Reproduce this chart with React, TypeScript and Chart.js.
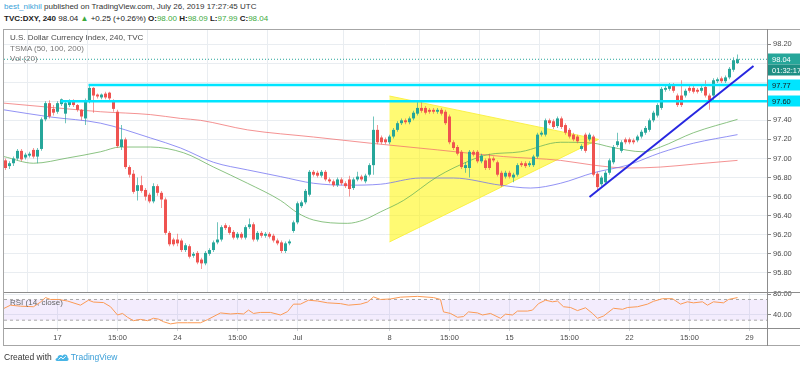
import React, { useEffect, useRef } from "react";
import { Chart, registerables } from "chart.js";
Chart.register(...registerables);

const FONT = "'Liberation Sans', Arial, sans-serif";

// ---- axis data ----
const TICK_IDX = [13, 28, 43, 58, 73, 96, 111, 126, 141, 156, 171, 186];
const TICK_LABELS = ["17", "15:00", "24", "15:00", "Jul", "8", "15:00", "15", "15:00", "22", "15:00", "29"];
const PRICE_TICKS = [95.8, 96.0, 96.2, 96.4, 96.6, 96.8, 97.0, 97.2, 97.4, 97.6, 97.8, 98.0, 98.2];
const HIDDEN_PRICE_LABELS = [98.0, 97.8, 97.6];
const RSI_TICKS = [40, 80];
const RSI_BANDS = [70, 30];

// ---- candles (240 min bars) ----
const OPEN = [
  96.98, 96.92, 96.95, 97.00, 97.08, 97.01, 97.03, 97.09, 97.02, 97.10,
  97.41, 97.58, 97.52, 97.49, 97.57, 97.47, 97.56, 97.60, 97.56, 97.51,
  97.42, 97.61, 97.74, 97.67, 97.64, 97.68, 97.69, 97.61, 97.49, 97.12,
  97.20, 96.91, 96.84, 96.66, 96.72, 96.67, 96.62, 96.55, 96.71, 96.64,
  96.57, 96.22, 96.15, 96.15, 96.14, 96.04, 96.08, 95.98, 96.01, 95.94,
  95.90, 96.00, 96.04, 96.12, 96.15, 96.30, 96.28, 96.23, 96.17, 96.21,
  96.17, 96.28, 96.31, 96.15, 96.22, 96.19, 96.21, 96.19, 96.14, 96.12,
  96.03, 96.11, 96.24, 96.33, 96.50, 96.54, 96.62, 96.86, 96.85, 96.82,
  96.86, 96.78, 96.76, 96.72, 96.78, 96.74, 96.78, 96.69, 96.78, 96.81,
  96.76, 96.83, 96.93, 97.30, 97.22, 97.20, 97.17, 97.23, 97.30, 97.37,
  97.40, 97.38, 97.42, 97.47, 97.53, 97.53, 97.51, 97.51, 97.49, 97.51,
  97.49, 97.44, 97.17, 97.12, 97.07, 96.90, 96.90, 97.07, 97.07, 96.97,
  96.98, 97.00, 97.00, 96.96, 96.85, 96.81, 96.85, 96.80, 96.83, 96.95,
  96.95, 96.93, 96.93, 97.02, 97.25, 97.25, 97.40, 97.39, 97.34, 97.42,
  97.35, 97.30, 97.25, 97.23, 97.10, 97.25, 97.20, 97.23, 96.84, 96.73,
  96.75, 96.85, 96.96, 97.14, 97.08, 97.20, 97.20, 97.19, 97.19, 97.23,
  97.27, 97.30, 97.40, 97.45, 97.53, 97.72, 97.73, 97.77, 97.66, 97.66,
  97.66, 97.74, 97.74, 97.72, 97.71, 97.75, 97.66, 97.66, 97.81, 97.84,
  97.81, 97.85, 97.93, 98.00,
];
const HIGH = [
  97.00, 96.97, 97.02, 97.10, 97.10, 97.06, 97.07, 97.11, 97.11, 97.43,
  97.60, 97.61, 97.56, 97.60, 97.63, 97.60, 97.62, 97.62, 97.57, 97.52,
  97.63, 97.76, 97.75, 97.68, 97.68, 97.70, 97.70, 97.62, 97.51, 97.35,
  97.22, 96.93, 96.88, 96.80, 96.82, 96.69, 96.64, 96.74, 96.73, 96.66,
  96.59, 96.24, 96.17, 96.21, 96.16, 96.11, 96.10, 96.02, 96.03, 95.96,
  96.03, 96.06, 96.14, 96.33, 96.30, 96.32, 96.30, 96.25, 96.23, 96.23,
  96.30, 96.37, 96.33, 96.24, 96.24, 96.23, 96.23, 96.21, 96.16, 96.14,
  96.13, 96.15, 96.35, 96.55, 96.56, 96.68, 96.88, 96.88, 96.87, 96.88,
  96.88, 96.80, 96.78, 96.80, 96.80, 96.76, 96.82, 96.80, 96.86, 96.83,
  96.84, 96.95, 97.44, 97.35, 97.24, 97.22, 97.25, 97.32, 97.39, 97.42,
  97.42, 97.44, 97.50, 97.59, 97.59, 97.55, 97.53, 97.53, 97.53, 97.53,
  97.51, 97.46, 97.19, 97.14, 97.09, 96.96, 97.09, 97.09, 97.09, 97.05,
  97.00, 97.05, 97.02, 96.98, 96.87, 96.87, 96.87, 96.85, 96.95, 96.97,
  96.97, 96.97, 97.04, 97.27, 97.29, 97.42, 97.42, 97.41, 97.44, 97.44,
  97.37, 97.32, 97.27, 97.25, 97.15, 97.27, 97.27, 97.25, 96.86, 96.82,
  96.87, 97.00, 97.14, 97.27, 97.19, 97.22, 97.22, 97.21, 97.25, 97.30,
  97.34, 97.42, 97.50, 97.58, 97.75, 97.76, 97.79, 97.79, 97.68, 97.82,
  97.73, 97.76, 97.76, 97.74, 97.76, 97.82, 97.68, 97.84, 97.85, 97.86,
  97.87, 97.96, 98.06, 98.09,
];
const LOW = [
  96.88, 96.89, 96.92, 96.98, 96.97, 96.99, 97.01, 97.00, 96.95, 97.08,
  97.39, 97.42, 97.45, 97.47, 97.55, 97.37, 97.54, 97.54, 97.49, 97.40,
  97.35, 97.58, 97.48, 97.63, 97.62, 97.62, 97.60, 97.49, 97.11, 97.09,
  96.89, 96.80, 96.63, 96.56, 96.64, 96.56, 96.53, 96.53, 96.61, 96.48,
  96.20, 96.08, 96.08, 96.08, 96.02, 96.02, 95.95, 95.96, 95.89, 95.84,
  95.88, 95.98, 96.02, 96.10, 96.13, 96.25, 96.20, 96.15, 96.15, 96.15,
  96.15, 96.26, 96.13, 96.13, 96.17, 96.17, 96.16, 96.12, 96.09, 96.01,
  96.01, 96.09, 96.22, 96.31, 96.48, 96.52, 96.60, 96.81, 96.80, 96.80,
  96.76, 96.74, 96.70, 96.70, 96.72, 96.69, 96.60, 96.67, 96.76, 96.76,
  96.74, 96.81, 96.83, 97.15, 97.15, 97.15, 97.15, 97.21, 97.28, 97.35,
  97.36, 97.36, 97.40, 97.45, 97.48, 97.46, 97.47, 97.47, 97.47, 97.45,
  97.35, 97.15, 97.09, 97.03, 96.89, 96.85, 96.80, 97.02, 96.95, 96.95,
  96.88, 96.88, 96.96, 96.81, 96.70, 96.79, 96.79, 96.75, 96.81, 96.91,
  96.90, 96.91, 96.91, 97.00, 97.23, 97.23, 97.35, 97.31, 97.32, 97.31,
  97.25, 97.21, 97.18, 97.16, 97.08, 97.06, 97.18, 96.81, 96.67, 96.71,
  96.73, 96.83, 96.94, 97.12, 97.06, 97.15, 97.15, 97.15, 97.17, 97.21,
  97.25, 97.28, 97.38, 97.43, 97.51, 97.70, 97.71, 97.69, 97.54, 97.54,
  97.64, 97.69, 97.68, 97.68, 97.69, 97.64, 97.51, 97.60, 97.79, 97.79,
  97.79, 97.83, 97.91, 97.99,
];
const CLOSE = [
  96.90, 96.95, 97.00, 97.08, 96.99, 97.04, 97.05, 97.02, 97.09, 97.41,
  97.58, 97.44, 97.48, 97.58, 97.62, 97.58, 97.60, 97.56, 97.51, 97.44,
  97.61, 97.74, 97.66, 97.65, 97.67, 97.64, 97.63, 97.52, 97.13, 97.20,
  96.91, 96.83, 96.65, 96.72, 96.66, 96.60, 96.55, 96.71, 96.64, 96.57,
  96.22, 96.10, 96.10, 96.11, 96.04, 96.09, 95.97, 96.00, 95.91, 95.90,
  96.01, 96.04, 96.12, 96.15, 96.28, 96.27, 96.22, 96.17, 96.21, 96.17,
  96.28, 96.31, 96.15, 96.22, 96.19, 96.21, 96.18, 96.14, 96.11, 96.03,
  96.11, 96.13, 96.33, 96.53, 96.54, 96.66, 96.86, 96.83, 96.82, 96.86,
  96.78, 96.76, 96.72, 96.78, 96.74, 96.71, 96.68, 96.78, 96.81, 96.78,
  96.82, 96.93, 97.30, 97.17, 97.17, 97.17, 97.23, 97.30, 97.37, 97.40,
  97.38, 97.42, 97.48, 97.53, 97.50, 97.48, 97.49, 97.49, 97.51, 97.47,
  97.37, 97.17, 97.11, 97.05, 96.91, 96.93, 97.07, 97.04, 96.97, 97.03,
  96.90, 96.90, 96.98, 96.83, 96.72, 96.85, 96.81, 96.83, 96.93, 96.93,
  96.92, 96.95, 97.02, 97.25, 97.27, 97.40, 97.37, 97.33, 97.42, 97.33,
  97.27, 97.23, 97.20, 97.18, 97.13, 97.08, 97.25, 96.83, 96.70, 96.80,
  96.85, 96.98, 97.12, 97.18, 97.17, 97.17, 97.17, 97.17, 97.23, 97.28,
  97.32, 97.40, 97.48, 97.56, 97.73, 97.74, 97.76, 97.71, 97.56, 97.56,
  97.71, 97.71, 97.70, 97.70, 97.74, 97.66, 97.60, 97.82, 97.83, 97.81,
  97.85, 97.94, 98.03, 98.04,
];

// ---- TSMA (50, 100, 200) read at sample bars ----
const MA50_IDX = [-0.4, 7, 15.5, 23.75, 28.75, 36.25, 44.5, 52, 60.5, 68.75, 73, 77, 85.5, 89.5, 93.75, 99.5, 108, 116.25, 120.5, 128.75, 138.75, 147, 151.25, 159.5, 163.75, 172, 183];
const MA50_VAL = [97.02, 96.95, 97.005, 97.07, 97.12, 97.12, 97.06, 96.91, 96.74, 96.56, 96.43, 96.355, 96.32, 96.355, 96.44, 96.56, 96.81, 96.98, 97.04, 97.07, 97.17, 97.16, 97.12, 97.07, 97.12, 97.27, 97.41];
const MA100_IDX = [-0.4, 11.25, 23.75, 36.25, 43.75, 52, 60.5, 68.75, 77, 85.5, 93.75, 103.75, 112, 123.75, 131.25, 138.75, 147, 155.5, 163.75, 172, 183];
const MA100_VAL = [97.51, 97.435, 97.37, 97.215, 97.11, 96.96, 96.88, 96.81, 96.74, 96.72, 96.73, 96.795, 96.795, 96.72, 96.69, 96.74, 96.85, 96.93, 97.06, 97.16, 97.25];
const MA200_IDX = [-0.4, 15.5, 23.75, 36.25, 43.75, 48.75, 60.5, 77, 91.25, 108, 124.5, 138.75, 147, 155.5, 163.75, 172, 183];
const MA200_VAL = [97.58, 97.52, 97.49, 97.46, 97.42, 97.40, 97.30, 97.225, 97.16, 97.09, 97.02, 96.98, 96.93, 96.90, 96.91, 96.94, 96.98];

// ---- RSI (14, close) read at sample bars ----
const RSI_IDX = [-0.4, 1.25, 3.75, 7, 8.75, 10, 11.25, 13.25, 15.5, 18.75, 20.75, 22, 24.5, 26.25, 28, 29.25, 30.5, 32, 33.75, 35.5, 37, 38.25, 39.5, 41.25, 43, 45.5, 48.75, 50.5, 53.75, 56.25, 58, 59.5, 60.75, 62, 63.75, 66.25, 68.75, 70.5, 72, 73.75, 75.75, 78, 80.5, 83.75, 85.75, 88.75, 90.5, 92, 93.75, 96.25, 98.75, 103, 107, 108.75, 109.5, 111.25, 113, 114.5, 115.75, 118, 119.25, 121.25, 123.75, 125, 126.75, 128, 130.5, 131.75, 133.25, 135, 136.75, 138, 139.5, 141.25, 143, 145, 146.75, 148, 149.5, 152, 154.25, 155.5, 158, 160.5, 162, 164.25, 166.75, 168.75, 170.5, 172, 174.25, 175.5, 177, 179.5, 180.75, 183];
const RSI_VAL = [52.7, 59, 57, 56, 65, 73.7, 70, 70, 67, 59, 68.6, 65, 64, 56, 40, 43, 35.6, 29, 31.5, 29, 33.7, 32, 27, 22.8, 25, 25, 25, 31, 44, 42, 43, 42, 49.5, 43, 45, 45, 40, 46.5, 61, 61, 68.6, 67, 63.5, 62, 59, 61, 65, 75, 70, 71, 74.5, 76, 73.7, 70, 46, 43, 35.6, 37, 46, 44, 40, 43, 33.6, 41.6, 40, 47.6, 47.6, 49.5, 62, 68.6, 65.5, 67, 56, 54.5, 48.5, 54, 43, 33.6, 38, 53, 51, 54.5, 56, 61, 66.5, 71.5, 71.5, 61, 65.5, 63.5, 65.5, 59, 65.5, 63.5, 70, 73.7];

// ---- drawings ----
const LEVEL_VAL = [97.77, 97.60];
const LEVEL_START = [20.75, 13.75];
const TRI_IDX = [96, 148.25, 96];
const TRI_VAL = [97.655, 97.2, 96.125];
const TREND_IDX = [146, 187];
const TREND_VAL = [96.596, 97.969];
const LAST_PRICE = 98.04;
const COUNTDOWN = "01:32:17";

const X_MIN = -0.375;
const X_MAX = 190.375;
const Y_MIN = 95.6;
const Y_MAX = 98.347;
const RSI_MIN = 14.88;
const RSI_MAX = 84.44;

const UP = "#26a69a";
const DOWN = "#ef5350";
const GRID = "#e9edf1";

const pts = (xs: number[], ys: number[]) => xs.map((x, i) => ({ x, y: ys[i] }));

const tagPlugin = {
  id: "tags",
  afterDraw(chart: any) {
    const { ctx, chartArea } = chart;
    const y = chart.scales.y;
    const x0 = chartArea.right + 1;
    const box = (py: number, text: string, bg: string, fg: string) => {
      ctx.save();
      ctx.fillStyle = bg;
      ctx.fillRect(x0, py - 5.5, 40, 11);
      ctx.fillStyle = fg;
      ctx.font = `7.5px ${FONT}`;
      ctx.textBaseline = "middle";
      ctx.textAlign = "left";
      ctx.fillText(text, x0 + 4, py + 0.5);
      ctx.restore();
    };
    const lp = Math.round(y.getPixelForValue(LAST_PRICE));
    box(lp, LAST_PRICE.toFixed(2), "#26a69a", "#ffffff");
    box(lp + 11, COUNTDOWN, "#1f8f84", "#ffffff");
    LEVEL_VAL.forEach((v) => {
      box(Math.round(y.getPixelForValue(v)), v.toFixed(2), "#00e5ff", "#1a1a1a");
    });
  },
};

export default function App() {
  const mainRef = useRef<HTMLCanvasElement>(null);
  const rsiRef = useRef<HTMLCanvasElement>(null);

  useEffect(() => {
    Chart.defaults.font.family = FONT;
    const bodyColors = CLOSE.map((c, i) => (c >= OPEN[i] ? UP : DOWN));
    const wickColors = CLOSE.map((c, i) => (c >= OPEN[i] ? "rgba(38,166,154,0.65)" : "rgba(239,83,80,0.6)"));
    const idx = CLOSE.map((_, i) => i);

    const main = new Chart(mainRef.current as HTMLCanvasElement, {
      type: "bar",
      data: {
        datasets: [
          {
            type: "line",
            data: pts(TRI_IDX, TRI_VAL),
            fill: "shape",
            backgroundColor: "rgba(255,246,0,0.55)",
            borderColor: "rgba(250,240,60,0.9)",
            borderWidth: 1,
            pointRadius: 0,
            tension: 0,
            order: 20,
          } as any,
          {
            type: "line",
            data: pts(MA200_IDX, MA200_VAL),
            borderColor: "rgba(240,110,110,0.75)",
            borderWidth: 1,
            pointRadius: 0,
            cubicInterpolationMode: "monotone",
            order: 12,
          } as any,
          {
            type: "line",
            data: pts(MA100_IDX, MA100_VAL),
            borderColor: "rgba(110,110,240,0.75)",
            borderWidth: 1,
            pointRadius: 0,
            cubicInterpolationMode: "monotone",
            order: 11,
          } as any,
          {
            type: "line",
            data: pts(MA50_IDX, MA50_VAL),
            borderColor: "rgba(100,175,90,0.75)",
            borderWidth: 1,
            pointRadius: 0,
            cubicInterpolationMode: "monotone",
            order: 10,
          } as any,
          {
            type: "bar",
            data: idx.map((i) => ({ x: i, y: [LOW[i], HIGH[i]] })),
            backgroundColor: wickColors,
            barThickness: 1,
            grouped: false,
            inflateAmount: 0,
            order: 6,
          } as any,
          {
            type: "bar",
            data: idx.map((i) => ({ x: i, y: [OPEN[i], CLOSE[i]] })),
            backgroundColor: bodyColors,
            barThickness: 3,
            grouped: false,
            minBarLength: 1,
            inflateAmount: 0,
            order: 5,
          } as any,
          ...LEVEL_VAL.map(
            (v, k) =>
              ({
                type: "line",
                data: [
                  { x: LEVEL_START[k], y: v },
                  { x: X_MAX, y: v },
                ],
                borderColor: "#00e5ff",
                borderWidth: 2.5,
                pointRadius: 0,
                order: 3,
              } as any)
          ),
          {
            type: "line",
            data: pts(TREND_IDX, TREND_VAL),
            borderColor: "#2727e0",
            borderWidth: 2,
            pointRadius: 0,
            order: 2,
          } as any,
          {
            type: "line",
            data: [
              { x: X_MIN, y: LAST_PRICE },
              { x: X_MAX, y: LAST_PRICE },
            ],
            borderColor: "#26a69a",
            borderWidth: 1,
            borderDash: [1, 2],
            pointRadius: 0,
            order: 1,
          } as any,
        ],
      },
      options: {
        responsive: false,
        animation: false,
        devicePixelRatio: 1,
        events: [],
        layout: { padding: { left: 4, right: 0, top: 0, bottom: 0 } },
        plugins: { legend: { display: false }, tooltip: { enabled: false } },
        scales: {
          x: {
            type: "linear",
            min: X_MIN,
            max: X_MAX,
            offset: false,
            afterBuildTicks: (s: any) => {
              s.ticks = TICK_IDX.map((v) => ({ value: v }));
            },
            ticks: { display: false },
            grid: { color: GRID, drawTicks: false },
            border: { display: false },
            afterFit: (s: any) => {
              s.height = 0;
              s.paddingLeft = 0;
              s.paddingRight = 0;
            },
          },
          y: {
            type: "linear",
            position: "right",
            min: Y_MIN,
            max: Y_MAX,
            afterBuildTicks: (s: any) => {
              s.ticks = PRICE_TICKS.map((v) => ({ value: v }));
            },
            ticks: {
              callback: (v: any) => (HIDDEN_PRICE_LABELS.includes(v) ? "" : Number(v).toFixed(2)),
              font: { size: 7.5 },
              color: "#4a4a4a",
              padding: 2,
            },
            grid: { color: GRID, tickColor: "#8a8a8a", tickLength: 4 },
            border: { display: false },
            afterFit: (s: any) => {
              s.width = 33;
              s.paddingTop = 0;
              s.paddingBottom = 0;
            },
          },
        },
      } as any,
      plugins: [tagPlugin],
    });

    const rsi = new Chart(rsiRef.current as HTMLCanvasElement, {
      type: "line",
      data: {
        datasets: [
          {
            data: [
              { x: X_MIN, y: RSI_BANDS[0] },
              { x: X_MAX, y: RSI_BANDS[0] },
            ],
            borderColor: "#a8a8a8",
            borderWidth: 1,
            borderDash: [3, 3],
            fill: "+1",
            backgroundColor: "rgba(150,80,240,0.11)",
            pointRadius: 0,
            order: 3,
          },
          {
            data: [
              { x: X_MIN, y: RSI_BANDS[1] },
              { x: X_MAX, y: RSI_BANDS[1] },
            ],
            borderColor: "#a8a8a8",
            borderWidth: 1,
            borderDash: [3, 3],
            fill: false,
            pointRadius: 0,
            order: 2,
          },
          {
            data: pts(RSI_IDX, RSI_VAL),
            borderColor: "#fb9a55",
            borderWidth: 1,
            pointRadius: 0,
            fill: false,
            tension: 0,
            order: 1,
          },
        ],
      },
      options: {
        responsive: false,
        animation: false,
        devicePixelRatio: 1,
        events: [],
        layout: { padding: { left: 4, right: 0, top: 12, bottom: 0 } },
        plugins: { legend: { display: false }, tooltip: { enabled: false } },
        scales: {
          x: {
            type: "linear",
            min: X_MIN,
            max: X_MAX,
            offset: false,
            afterBuildTicks: (s: any) => {
              s.ticks = TICK_IDX.map((v) => ({ value: v }));
            },
            ticks: {
              callback: (v: any) => TICK_LABELS[TICK_IDX.indexOf(v)] ?? "",
              font: { size: 7.5 },
              color: "#4a4a4a",
              padding: 2,
              maxRotation: 0,
              autoSkip: false,
            },
            grid: { color: GRID, tickColor: "#d0d4d8", tickLength: 3 },
            border: { display: false },
            afterFit: (s: any) => {
              s.height = 17;
              s.paddingLeft = 0;
              s.paddingRight = 0;
            },
          },
          y: {
            type: "linear",
            position: "right",
            min: RSI_MIN,
            max: RSI_MAX,
            afterBuildTicks: (s: any) => {
              s.ticks = RSI_TICKS.map((v) => ({ value: v }));
            },
            ticks: {
              callback: (v: any) => Number(v).toFixed(2),
              font: { size: 7.5 },
              color: "#4a4a4a",
              padding: 2,
            },
            grid: { color: GRID, tickColor: "#8a8a8a", tickLength: 4 },
            border: { display: false },
            afterFit: (s: any) => {
              s.width = 33;
              s.paddingTop = 0;
              s.paddingBottom = 0;
            },
          },
        },
      } as any,
    });

    return () => {
      main.destroy();
      rsi.destroy();
    };
  }, []);

  const abs = (l: number, t: number, w: number, h: number, bg: string): React.CSSProperties => ({
    position: "absolute",
    left: l,
    top: t,
    width: w,
    height: h,
    background: bg,
  });
  const txt: React.CSSProperties = { position: "absolute", whiteSpace: "nowrap", fontSize: 8, lineHeight: "10px" };
  const green = "#3daa3d";

  return (
    <div
      style={{
        position: "absolute",
        left: 0,
        top: 0,
        width: 800,
        height: 368,
        overflow: "hidden",
        background: "#ffffff",
        fontFamily: FONT,
        color: "#333",
      }}
    >
      <div style={{ ...txt, left: 4, top: 2 }}>
        <span style={{ color: "#3a9fd8" }}>best_nikhil</span> published on TradingView.com, July 26, 2019 17:27:45 UTC
      </div>
      <div style={{ ...txt, left: 4, top: 14, color: "#222" }}>
        <b>TVC:DXY, 240</b> 98.04 <span style={{ color: green }}>▲</span> +0.25 (+0.26%) <b>O:</b>
        <span style={{ color: green }}>98.00</span> <b>H:</b>
        <span style={{ color: green }}>98.09</span> <b>L:</b>
        <span style={{ color: green }}>97.99</span> <b>C:</b>
        <span style={{ color: green }}>98.04</span>
      </div>

      <canvas
        ref={mainRef}
        width={800}
        height={262}
        style={{ position: "absolute", left: 0, top: 30, width: 800, height: 262 }}
      />
      <canvas
        ref={rsiRef}
        width={800}
        height={65}
        style={{ position: "absolute", left: 0, top: 280, width: 800, height: 65 }}
      />

      {/* frame */}
      <div style={abs(3, 29, 797, 1, "#a6a6a6")} />
      <div style={abs(3, 29, 1, 317, "#a6a6a6")} />
      <div style={abs(3, 345, 797, 1, "#a6a6a6")} />
      <div style={abs(767, 29, 1, 317, "#8c8c8c")} />
      <div style={abs(4, 292, 796, 1, "#8c8c8c")} />
      <div style={abs(4, 328, 796, 1, "#8c8c8c")} />

      <div style={{ ...txt, left: 10, top: 33, color: "#4a4a4a" }}>U.S. Dollar Currency Index, 240, TVC</div>
      <div style={{ ...txt, left: 10, top: 44, color: "#777" }}>TSMA (50, 100, 200)</div>
      <div style={{ ...txt, left: 10, top: 54, color: "#777" }}>Vol (20)</div>
      <div style={{ ...txt, left: 10, top: 298, color: "#666" }}>RSI (14, close)</div>

      <div style={{ ...txt, left: 4, top: 352, fontSize: 8.5, color: "#333", display: "flex", alignItems: "center" }}>
        <span>Created with</span>
        <svg width="14" height="9" viewBox="0 0 14 9" style={{ margin: "0 2px 0 3px" }}>
          <path d="M2 8 C0 8 0 5 2.5 5 C2.5 2 6 1 7.5 3 C9 0.5 13 1.5 12.5 4.5 C14 5 14 8 12 8 Z" fill="#48b5e6" />
          <path d="M3.5 6.5 L6 4.2 L8 5.8 L10.8 3.2" stroke="#ffffff" strokeWidth="1" fill="none" />
        </svg>
        <span style={{ color: "#3a9fd8" }}>TradingView</span>
      </div>
    </div>
  );
}
